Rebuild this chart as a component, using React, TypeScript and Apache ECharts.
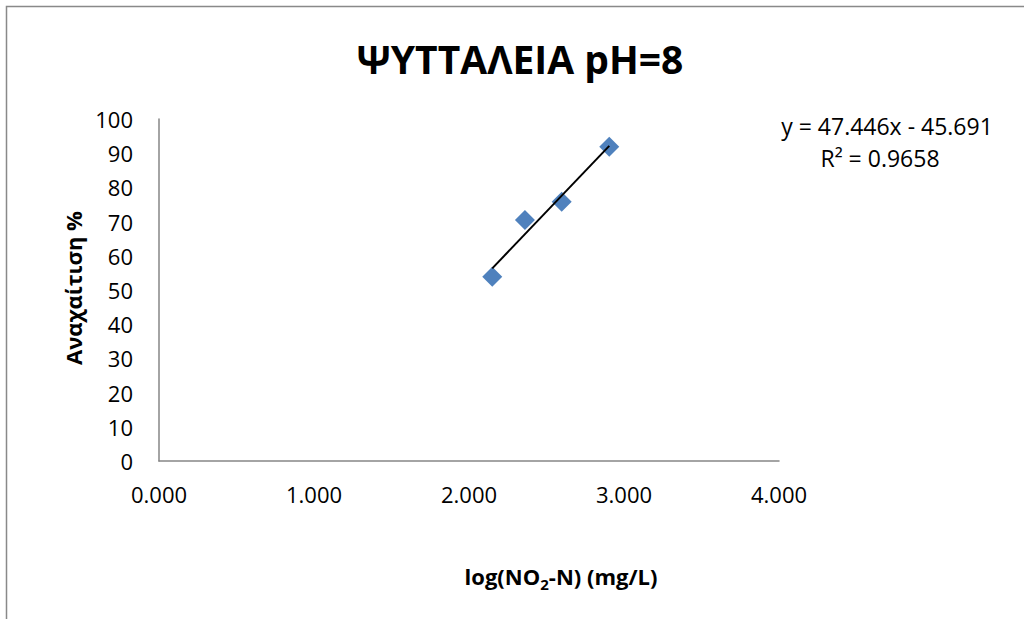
import React, { useEffect, useRef } from "react";
import * as echarts from "echarts";

// Measured samples: log concentration vs. removal percentage
const logConc: number[] = [2.15, 2.361, 2.598, 2.905];
const removal: number[] = [53.9, 70.5, 75.8, 91.9];

// Linear trendline coefficients and fit quality
const slope = 47.446;
const intercept = -45.691;
const rSquared = "0.9658";

const xTicks: number[] = [0, 1, 2, 3, 4];
const yTicks: number[] = [0, 10, 20, 30, 40, 50, 60, 70, 80, 90, 100];

const FONT = "'Open Sans', 'Noto Sans', sans-serif";

export default function App() {
  const ref = useRef<HTMLDivElement>(null);

  useEffect(() => {
    if (!ref.current) return;
    const chart = echarts.init(ref.current, null, { renderer: "svg" });

    const xMin = Math.min(...logConc);
    const xMax = Math.max(...logConc);
    const trend = [
      [xMin, slope * xMin + intercept],
      [xMax, slope * xMax + intercept],
    ];

    chart.setOption({
      animation: false,
      backgroundColor: "#ffffff",
      textStyle: { fontFamily: FONT },
      grid: { left: 159, top: 119, width: 620, height: 342, containLabel: false },
      xAxis: {
        type: "value",
        min: xTicks[0],
        max: xTicks[xTicks.length - 1],
        interval: 1,
        axisLine: { show: true, lineStyle: { color: "#868686", width: 1.5 } },
        axisTick: { show: false },
        splitLine: { show: false },
        axisLabel: {
          formatter: (v: number) => v.toFixed(3),
          color: "#000",
          fontSize: 22,
          fontFamily: FONT,
          margin: 22,
        },
      },
      yAxis: {
        type: "value",
        min: yTicks[0],
        max: yTicks[yTicks.length - 1],
        interval: 10,
        axisLine: { show: true, lineStyle: { color: "#868686", width: 1.5 } },
        axisTick: { show: false },
        splitLine: { show: false },
        axisLabel: {
          color: "#000",
          fontSize: 22,
          fontFamily: FONT,
          margin: 26,
        },
      },
      series: [
        {
          type: "line",
          data: trend,
          symbol: "none",
          lineStyle: { color: "#000", width: 2 },
          z: 3,
        },
        {
          type: "scatter",
          data: logConc.map((x, i) => [x, removal[i]]),
          symbol: "diamond",
          symbolSize: 20,
          itemStyle: { color: "#4F81BD", opacity: 1 },
          z: 2,
        },
      ],
      graphic: [
        {
          type: "rect",
          shape: { x: 6.5, y: 6.5, width: 1100, height: 700 },
          style: { fill: "none", stroke: "#898989", lineWidth: 1.5 },
          silent: true,
        },
        {
          type: "text",
          x: 520,
          y: 58,
          style: {
            text: "ΨΥΤΤΑΛΕΙΑ pH=8",
            font: `bold 39px ${FONT}`,
            fill: "#000",
            textAlign: "center",
            textVerticalAlign: "middle",
          },
        },
        {
          type: "text",
          x: 887,
          y: 126,
          style: {
            text: `y = ${slope}x - ${Math.abs(intercept)}`,
            font: `23px ${FONT}`,
            fill: "#000",
            textAlign: "center",
            textVerticalAlign: "middle",
          },
        },
        {
          type: "text",
          x: 880,
          y: 158,
          style: {
            text: `R² = ${rSquared}`,
            font: `23px ${FONT}`,
            fill: "#000",
            textAlign: "center",
            textVerticalAlign: "middle",
          },
        },
        {
          type: "text",
          x: 73,
          y: 288,
          rotation: Math.PI / 2,
          style: {
            text: "Αναχαίτιση %",
            font: `bold 22px ${FONT}`,
            fill: "#000",
            textAlign: "center",
            textVerticalAlign: "middle",
          },
        },
        {
          type: "text",
          x: 561,
          y: 576,
          style: {
            text: "{a|log(NO}{s|2}{a|-N) (mg/L)}",
            textAlign: "center",
            textVerticalAlign: "middle",
            rich: {
              a: { fontSize: 22, fontWeight: "bold", fontFamily: FONT, fill: "#000", lineHeight: 30, verticalAlign: "middle" },
              s: { fontSize: 15, fontWeight: "bold", fontFamily: FONT, fill: "#000", lineHeight: 30, verticalAlign: "bottom" },
            },
          },
        },
      ],
    });

    return () => chart.dispose();
  }, []);

  return (
    <div
      ref={ref}
      style={{ position: "absolute", left: 0, top: 0, width: 1024, height: 619 }}
    />
  );
}
